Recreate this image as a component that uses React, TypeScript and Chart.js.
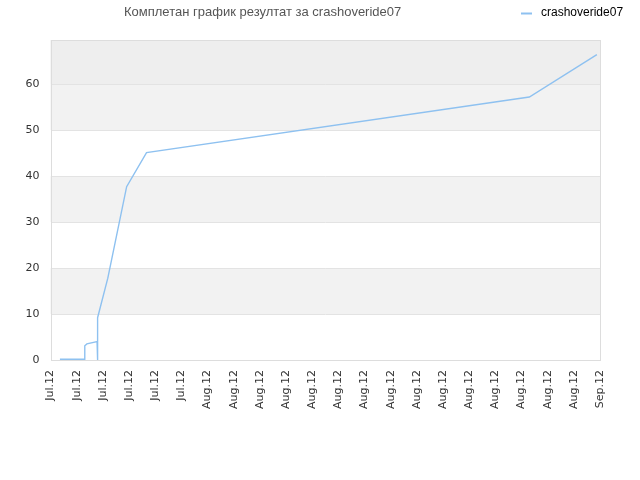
import React, { useEffect, useRef } from "react";
import { Chart, registerables } from "chart.js";

Chart.register(...registerables);

const chartTitle = "Комплетан график резултат за crashoveride07";
const seriesName = "crashoveride07";
const xTickLabels = [
  "Jul.12", "Jul.12", "Jul.12", "Jul.12", "Jul.12", "Jul.12",
  "Aug.12", "Aug.12", "Aug.12", "Aug.12", "Aug.12", "Aug.12", "Aug.12", "Aug.12",
  "Aug.12", "Aug.12", "Aug.12", "Aug.12", "Aug.12", "Aug.12", "Aug.12",
  "Sep.12",
];
const yTickValues = [0, 10, 20, 30, 40, 50, 60];
const pointX = [0.36, 1.29, 1.31, 1.39, 1.78, 1.8, 1.8, 2.19, 2.91, 3.67, 18.3, 20.88];
const pointY = [0.15, 0.15, 3.1, 3.5, 4.0, 0, 9.2, 17.8, 37.7, 45.1, 57.2, 66.4];
const yMax = 69.6;
const bandRanges = [
  [10, 20],
  [30, 40],
  [50, 60],
];
const topBandFrom = 60;

const FONT = "'DejaVu Sans', sans-serif";
const LINE_COLOR = "#8ec1f0";

const decorPlugin = {
  id: "decor",
  beforeDraw(chart: any) {
    const { ctx, chartArea, scales } = chart;
    const y = scales.y;
    ctx.save();
    ctx.fillStyle = "#ffffff";
    ctx.fillRect(0, 0, chart.width, chart.height);
    ctx.fillStyle = "#f2f2f2";
    for (const [a, b] of bandRanges) {
      const y1 = y.getPixelForValue(b);
      const y2 = y.getPixelForValue(a);
      ctx.fillRect(chartArea.left, y1, chartArea.right - chartArea.left, y2 - y1);
    }
    ctx.fillStyle = "#eeeeee";
    const t = y.getPixelForValue(topBandFrom);
    ctx.fillRect(chartArea.left, chartArea.top, chartArea.right - chartArea.left, t - chartArea.top);
    ctx.restore();
  },
  afterDraw(chart: any) {
    const { ctx, chartArea } = chart;
    ctx.save();
    ctx.strokeStyle = "#dddddd";
    ctx.lineWidth = 1;
    ctx.strokeRect(
      Math.round(chartArea.left) + 0.5,
      Math.round(chartArea.top) + 0.5,
      Math.round(chartArea.right - chartArea.left) - 1,
      Math.round(chartArea.bottom - chartArea.top)
    );
    // title
    ctx.fillStyle = "#555555";
    ctx.font = `13px 'Liberation Sans', sans-serif`;
    ctx.textAlign = "left";
    ctx.textBaseline = "middle";
    const targetWidth = 270;
    const raw = ctx.measureText(chartTitle).width;
    const spacing = Math.max(0, (targetWidth - raw) / (chartTitle.length - 1));
    (ctx as any).letterSpacing = `${spacing}px`;
    ctx.fillText(chartTitle, 124, 12.5);
    (ctx as any).letterSpacing = "0px";
    // legend
    ctx.strokeStyle = LINE_COLOR;
    ctx.lineWidth = 2;
    ctx.beginPath();
    ctx.moveTo(521, 13.5);
    ctx.lineTo(532, 13.5);
    ctx.stroke();
    ctx.fillStyle = "#000000";
    ctx.font = `12px 'Liberation Sans', sans-serif`;
    ctx.textAlign = "left";
    ctx.fillText(seriesName, 541, 12.5);
    ctx.restore();
  },
};

export default function App() {
  const ref = useRef<HTMLCanvasElement | null>(null);
  useEffect(() => {
    document.body.style.margin = "0";
    const canvas = ref.current;
    if (!canvas) return;
    const chart = new Chart(canvas, {
      type: "line",
      data: {
        datasets: [
          {
            label: seriesName,
            data: pointX.map((x, i) => ({ x, y: pointY[i] })),
            borderColor: LINE_COLOR,
            backgroundColor: LINE_COLOR,
            borderWidth: 1.4,
            pointRadius: 0,
            tension: 0,
            fill: false,
          },
        ],
      },
      options: {
        responsive: false,
        animation: false,
        layout: { padding: { top: 40, right: 40, left: 0, bottom: 0 } },
        plugins: {
          legend: { display: false },
          title: { display: false },
          tooltip: { enabled: false },
        },
        scales: {
          x: {
            type: "linear",
            min: 0,
            max: xTickLabels.length - 1,
            afterFit(scale: any) {
              scale.height = 120;
            },
            afterBuildTicks(scale: any) {
              scale.ticks = xTickLabels.map((_, i) => ({ value: i }));
            },
            grid: { display: false, drawTicks: false },
            border: { display: false },
            ticks: {
              autoSkip: false,
              minRotation: 90,
              maxRotation: 90,
              padding: 10,
              color: "#333333",
              font: { family: FONT, size: 11 },
              callback: (v: any) => xTickLabels[Math.round(Number(v))] ?? "",
            },
          },
          y: {
            min: 0,
            max: yMax,
            afterFit(scale: any) {
              scale.width = 50.5;
            },
            afterBuildTicks(scale: any) {
              scale.ticks = yTickValues.map((v) => ({ value: v }));
            },
            grid: { color: "#e3e3e3", drawTicks: false },
            border: { display: false },
            ticks: {
              padding: 11,
              color: "#333333",
              font: { family: FONT, size: 11 },
            },
          },
        },
      },
      plugins: [decorPlugin],
    });
    return () => chart.destroy();
  }, []);
  return (
    <div style={{ position: "absolute", left: 0, top: 0, width: 640, height: 480 }}>
      <canvas ref={ref} width={640} height={480} style={{ width: 640, height: 480 }} />
    </div>
  );
}
